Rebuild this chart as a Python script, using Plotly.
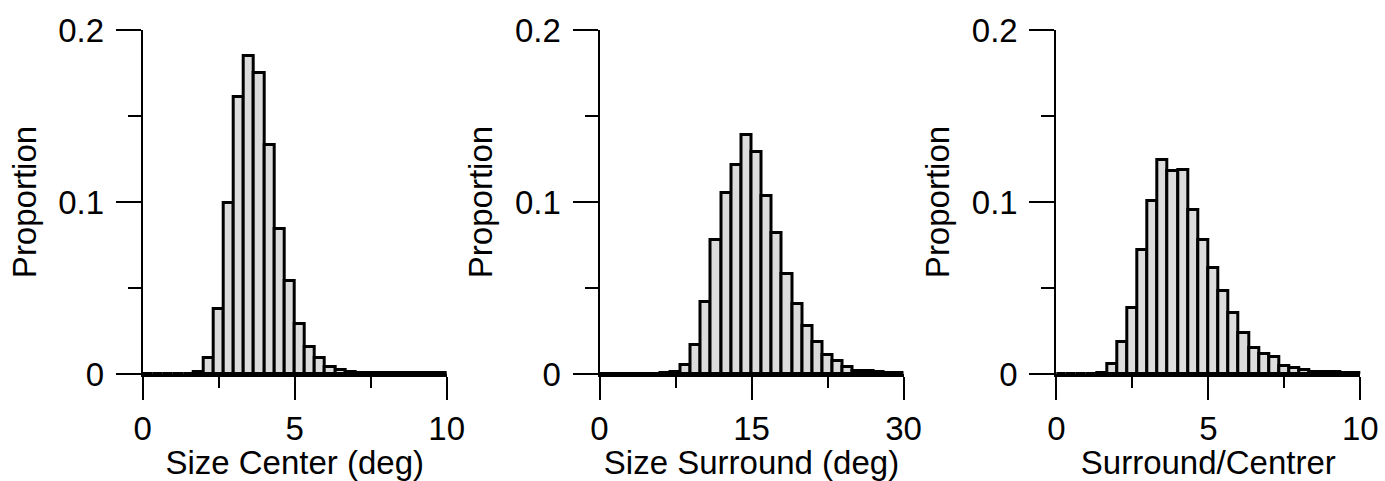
import plotly.graph_objects as go

# ---------------- data ----------------
# Panel 1: Size Center (deg) – 30 bins of 1/3 deg between 0 and 10
center_bin_start = 0.0
center_bin_width = 1.0 / 3.0
center_props = [0, 0, 0, 0, 0, 0.001, 0.0095, 0.0376, 0.0992, 0.1609,
                0.1849, 0.1752, 0.133, 0.0845, 0.0539, 0.029, 0.0159, 0.0093, 0.0043, 0.0022,
                0.0012, 0.0008, 0.0005, 0.0006, 0.0005, 0.0003, 0.0003, 0.0003, 0.0003, 0.0003]

# Panel 2: Size Surround (deg) – 30 bins of 1 deg between 0 and 30
surround_bin_start = 0.0
surround_bin_width = 1.0
surround_props = [0, 0, 0, 0, 0, 0, 0.0005, 0.001, 0.0054, 0.0171,
                  0.042, 0.0782, 0.1054, 0.1218, 0.1389, 0.1288, 0.1035, 0.0817, 0.0584, 0.0405,
                  0.028, 0.0187, 0.0113, 0.0078, 0.0043, 0.0019, 0.0019, 0.0012, 0.0004, 0.0008]

# Panel 3: Surround/Centrer – 30 bins of 1/3 between 0 and 10
ratio_bin_start = 0.0
ratio_bin_width = 1.0 / 3.0
ratio_props = [0, 0, 0, 0.0002, 0.0006, 0.0057, 0.0185, 0.0384, 0.072, 0.1005,
               0.1247, 0.118, 0.1188, 0.0954, 0.0779, 0.0615, 0.0482, 0.0353, 0.0236, 0.015,
               0.0119, 0.01, 0.0045, 0.0033, 0.0021, 0.0014, 0.001, 0.001, 0.0004, 0.0006]

x_titles = ["Size Center (deg)", "Size Surround (deg)", "Surround/Centrer"]
y_title = "Proportion"
x_ranges = [[0, 10], [0, 30], [0, 10]]
x_major = [[0, 5, 10], [0, 15, 30], [0, 5, 10]]
x_minor = [[2.5, 7.5], [7.5, 22.5], [2.5, 7.5]]
y_major = [0, 0.1, 0.2]
y_major_text = ["0", "0.1", "0.2"]
y_minor = [0.05, 0.15]

# ---------------- figure ----------------
FONT = "Liberation Sans, Arial, Helvetica, sans-serif"
FS = 33
W, H = 1385, 481

panels = [
    (center_bin_start, center_bin_width, center_props),
    (surround_bin_start, surround_bin_width, surround_props),
    (ratio_bin_start, ratio_bin_width, ratio_props),
]

x_domains_px = [(142.7, 446.7), (599.5, 903.5), (1056.3, 1360.3)]
y_domain = [(H - 374) / H, (H - 30) / H]

fig = go.Figure()
layout = dict(
    width=W, height=H,
    margin=dict(l=0, r=0, t=0, b=0, autoexpand=False),
    paper_bgcolor="white", plot_bgcolor="white",
    showlegend=False, bargap=0,
    font=dict(family=FONT, size=FS, color="black"),
)

for i, (start, bw, props) in enumerate(panels):
    sfx = "" if i == 0 else str(i + 1)
    centers = [start + (k + 0.5) * bw for k in range(len(props))]
    fig.add_trace(go.Bar(
        x=centers, y=props, width=bw,
        marker=dict(color="#dcdcdc", line=dict(color="black", width=3)),
        xaxis="x" + sfx, yaxis="y" + sfx, hoverinfo="skip",
    ))
    d0, d1 = x_domains_px[i]
    layout["xaxis" + sfx] = dict(
        domain=[d0 / W, d1 / W], range=x_ranges[i], anchor="y" + sfx,
        tickmode="array", tickvals=x_major[i],
        ticks="outside", ticklen=23, tickwidth=2, tickcolor="black",
        showline=True, linewidth=3, linecolor="black",
        showgrid=False, zeroline=False,
        tickfont=dict(family=FONT, size=FS, color="black"),
        minor=dict(tickmode="array", tickvals=x_minor[i], ticks="outside",
                   ticklen=11, tickwidth=2, tickcolor="black", showgrid=False),
        title=dict(text=x_titles[i], font=dict(family=FONT, size=FS, color="black"), standoff=1),
    )
    layout["yaxis" + sfx] = dict(
        domain=y_domain, range=[0, 0.2], anchor="x" + sfx,
        tickmode="array", tickvals=y_major, ticktext=y_major_text,
        ticks="outside", ticklen=25, tickwidth=2, tickcolor="black",
        showline=True, linewidth=2, linecolor="black",
        showgrid=False, zeroline=False,
        tickfont=dict(family=FONT, size=FS, color="black"),
        ticklabelstandoff=5,
        minor=dict(tickmode="array", tickvals=y_minor, ticks="outside",
                   ticklen=13, tickwidth=2, tickcolor="black", showgrid=False),
        title=dict(text=y_title, font=dict(family=FONT, size=FS, color="black"), standoff=12),
    )

fig.update_layout(**layout)
fig.write_html("out.html")
